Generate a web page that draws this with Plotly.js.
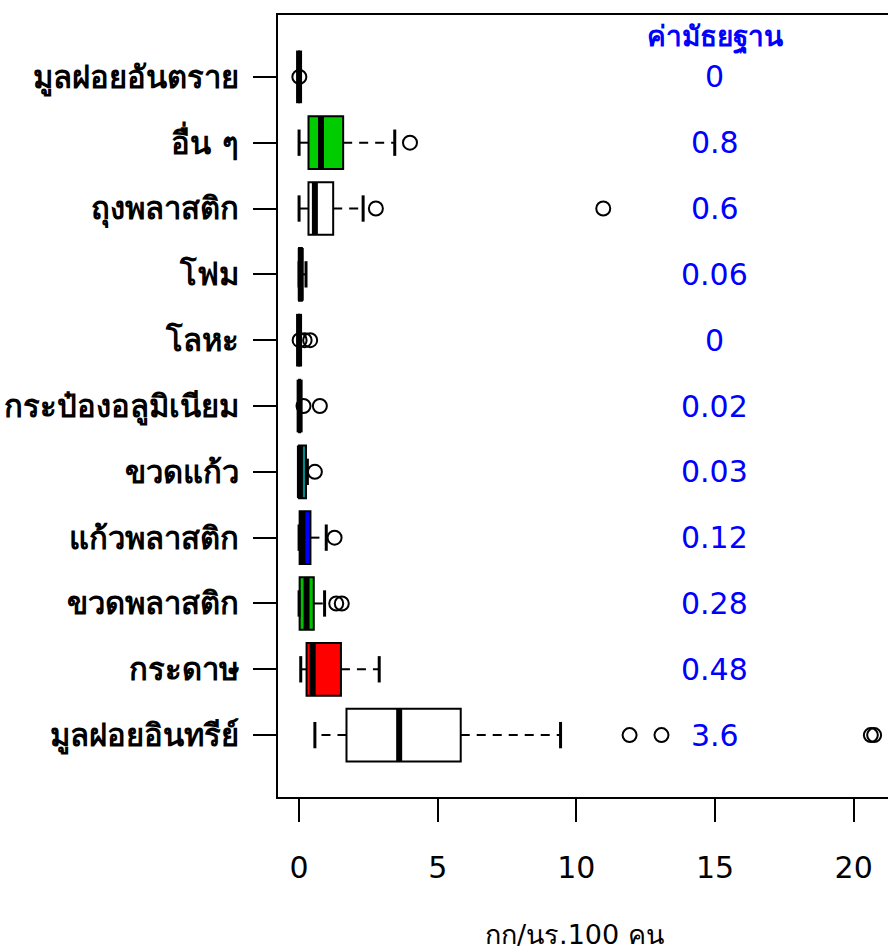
<!DOCTYPE html>
<html>
<head>
<meta charset="utf-8">
<script src="https://cdn.plot.ly/plotly-3.0.1.min.js"></script>
<style>
html, body { margin: 0; padding: 0; overflow: hidden; background: #fff; }
#chart { width: 910px; height: 951px; }
</style>
</head>
<body>
<div id="chart"></div>
<script>
// Categories bottom (position 1) to top (position 11)
const categories = ['มูลฝอยอินทรีย์', 'กระดาษ', 'ขวดพลาสติก', 'แก้วพลาสติก', 'ขวดแก้ว',
  'กระป๋องอลูมิเนียม', 'โลหะ', 'โฟม', 'ถุงพลาสติก', 'อื่น ๆ', 'มูลฝอยอันตราย'];
const q1Values      = [1.71, 0.27, 0.02, 0.02, 0.00, 0.00, 0.00, 0.00, 0.34, 0.34, 0.00];
const medianValues  = [3.61, 0.49, 0.27, 0.12, 0.03, 0.02, 0.00, 0.06, 0.57, 0.79, 0.00];
const q3Values      = [5.83, 1.51, 0.53, 0.41, 0.25, 0.04, 0.00, 0.10, 1.23, 1.59, 0.00];
const lowerWhiskers = [0.57, 0.06, 0.00, 0.00, 0.00, 0.00, 0.00, 0.00, 0.00, 0.00, 0.00];
const upperWhiskers = [9.43, 2.89, 0.92, 0.98, 0.30, 0.05, 0.00, 0.25, 2.31, 3.45, 0.00];
const outlierValues = [
  [11.92, 13.07, 20.62, 20.74],
  [],
  [1.34, 1.54],
  [1.28],
  [0.57],
  [0.16, 0.75],
  [0.02, 0.20, 0.40],
  [],
  [2.77, 10.97],
  [4.00],
  [0.01]
];
const fillColors = ['#FFFFFF', '#FF0000', '#00C000', '#0000FF', '#008B8B',
  '#FFFFFF', '#FFFFFF', '#FFFFFF', '#FFFFFF', '#00CC00', '#FFFFFF'];
const medianLabels = ['3.6', '0.48', '0.28', '0.12', '0.03', '0.02', '0', '0.06', '0.6', '0.8', '0'];
const medianHeader = 'ค่ามัธยฐาน';
const xTicks = [0, 5, 10, 15, 20];
const xAxisLabel = 'กก/นร.100 คน';
const labelColumnX = 15;

const FONT = 'Tahoma, "DejaVu Sans", "Noto Sans", sans-serif';
const positions = categories.map((c, i) => i + 1);
const HALF = 0.4, CAP = 0.2;

const traces = [];
// Boxes
positions.forEach((p, i) => {
  traces.push({
    type: 'box', orientation: 'h',
    y: [p], q1: [q1Values[i]], median: [medianValues[i]], q3: [q3Values[i]],
    lowerfence: [q1Values[i]], upperfence: [q3Values[i]],
    width: 0.8, boxpoints: false,
    fillcolor: fillColors[i],
    line: { color: '#000000', width: 2 },
    hoverinfo: 'skip', showlegend: false
  });
});
// Dashed whiskers
const wx = [], wy = [];
positions.forEach((p, i) => {
  wx.push(q3Values[i], upperWhiskers[i], null, q1Values[i], lowerWhiskers[i], null);
  wy.push(p, p, null, p, p, null);
});
traces.push({ type: 'scatter', mode: 'lines', x: wx, y: wy,
  line: { color: '#000', width: 2, dash: '9px,7px' }, hoverinfo: 'skip', showlegend: false });
// Caps
const cx = [], cy = [];
positions.forEach((p, i) => {
  cx.push(upperWhiskers[i], upperWhiskers[i], null, lowerWhiskers[i], lowerWhiskers[i], null);
  cy.push(p - CAP, p + CAP, null, p - CAP, p + CAP, null);
});
traces.push({ type: 'scatter', mode: 'lines', x: cx, y: cy,
  line: { color: '#000', width: 3 }, hoverinfo: 'skip', showlegend: false });
// Medians
const mx = [], my = [];
positions.forEach((p, i) => {
  mx.push(medianValues[i], medianValues[i], null);
  my.push(p - HALF, p + HALF, null);
});
traces.push({ type: 'scatter', mode: 'lines', x: mx, y: my,
  line: { color: '#000', width: 6 }, hoverinfo: 'skip', showlegend: false });
// Outliers
const ox = [], oy = [];
positions.forEach((p, i) => {
  outlierValues[i].forEach(v => { ox.push(v); oy.push(p); });
});
traces.push({ type: 'scatter', mode: 'markers', x: ox, y: oy,
  marker: { symbol: 'circle-open', size: 14, color: '#000', line: { width: 2, color: '#000' } },
  hoverinfo: 'skip', showlegend: false });

const annotations = positions.map((p, i) => ({
  x: labelColumnX, y: p, xref: 'x', yref: 'y', text: medianLabels[i], showarrow: false,
  font: { family: FONT, size: 30, color: '#0000FF' }, xanchor: 'center', yanchor: 'middle'
}));
annotations.push({
  x: labelColumnX, y: 11.6, xref: 'x', yref: 'y', text: medianHeader, showarrow: false,
  font: { family: FONT, size: 28, color: '#0000FF', weight: 'bold' }, xanchor: 'center', yanchor: 'middle'
});
annotations.push({
  x: 0.479, y: 0, xref: 'paper', yref: 'paper', yshift: -137, text: xAxisLabel, showarrow: false,
  font: { family: FONT, size: 27, color: '#000' }, xanchor: 'center', yanchor: 'middle'
});

const layout = {
  width: 910, height: 951,
  margin: { l: 278, r: 12, t: 15, b: 154 },
  paper_bgcolor: '#fff', plot_bgcolor: '#fff',
  font: { family: FONT, color: '#000' },
  showlegend: false,
  xaxis: {
    range: [-0.76, 21.6], tickvals: xTicks, ticktext: xTicks.map(String),
    ticks: 'outside', ticklen: 23, tickwidth: 2, tickcolor: '#000',
    showline: true, mirror: true, linecolor: '#000', linewidth: 2,
    showgrid: false, zeroline: false, ticklabelstandoff: 20,
    tickfont: { family: FONT, size: 30, color: '#000' }
  },
  yaxis: {
    range: [0.06, 11.94], tickvals: positions, ticktext: categories,
    ticks: 'outside', ticklen: 23, tickwidth: 2, tickcolor: '#000',
    showline: true, mirror: true, linecolor: '#000', linewidth: 2,
    showgrid: false, zeroline: false, ticklabelstandoff: 8,
    tickfont: { family: FONT, size: 31, color: '#000', weight: 'bold' }
  },
  annotations: annotations
};

Plotly.newPlot('chart', traces, layout, { staticPlot: true, displayModeBar: false });
</script>
</body>
</html>
